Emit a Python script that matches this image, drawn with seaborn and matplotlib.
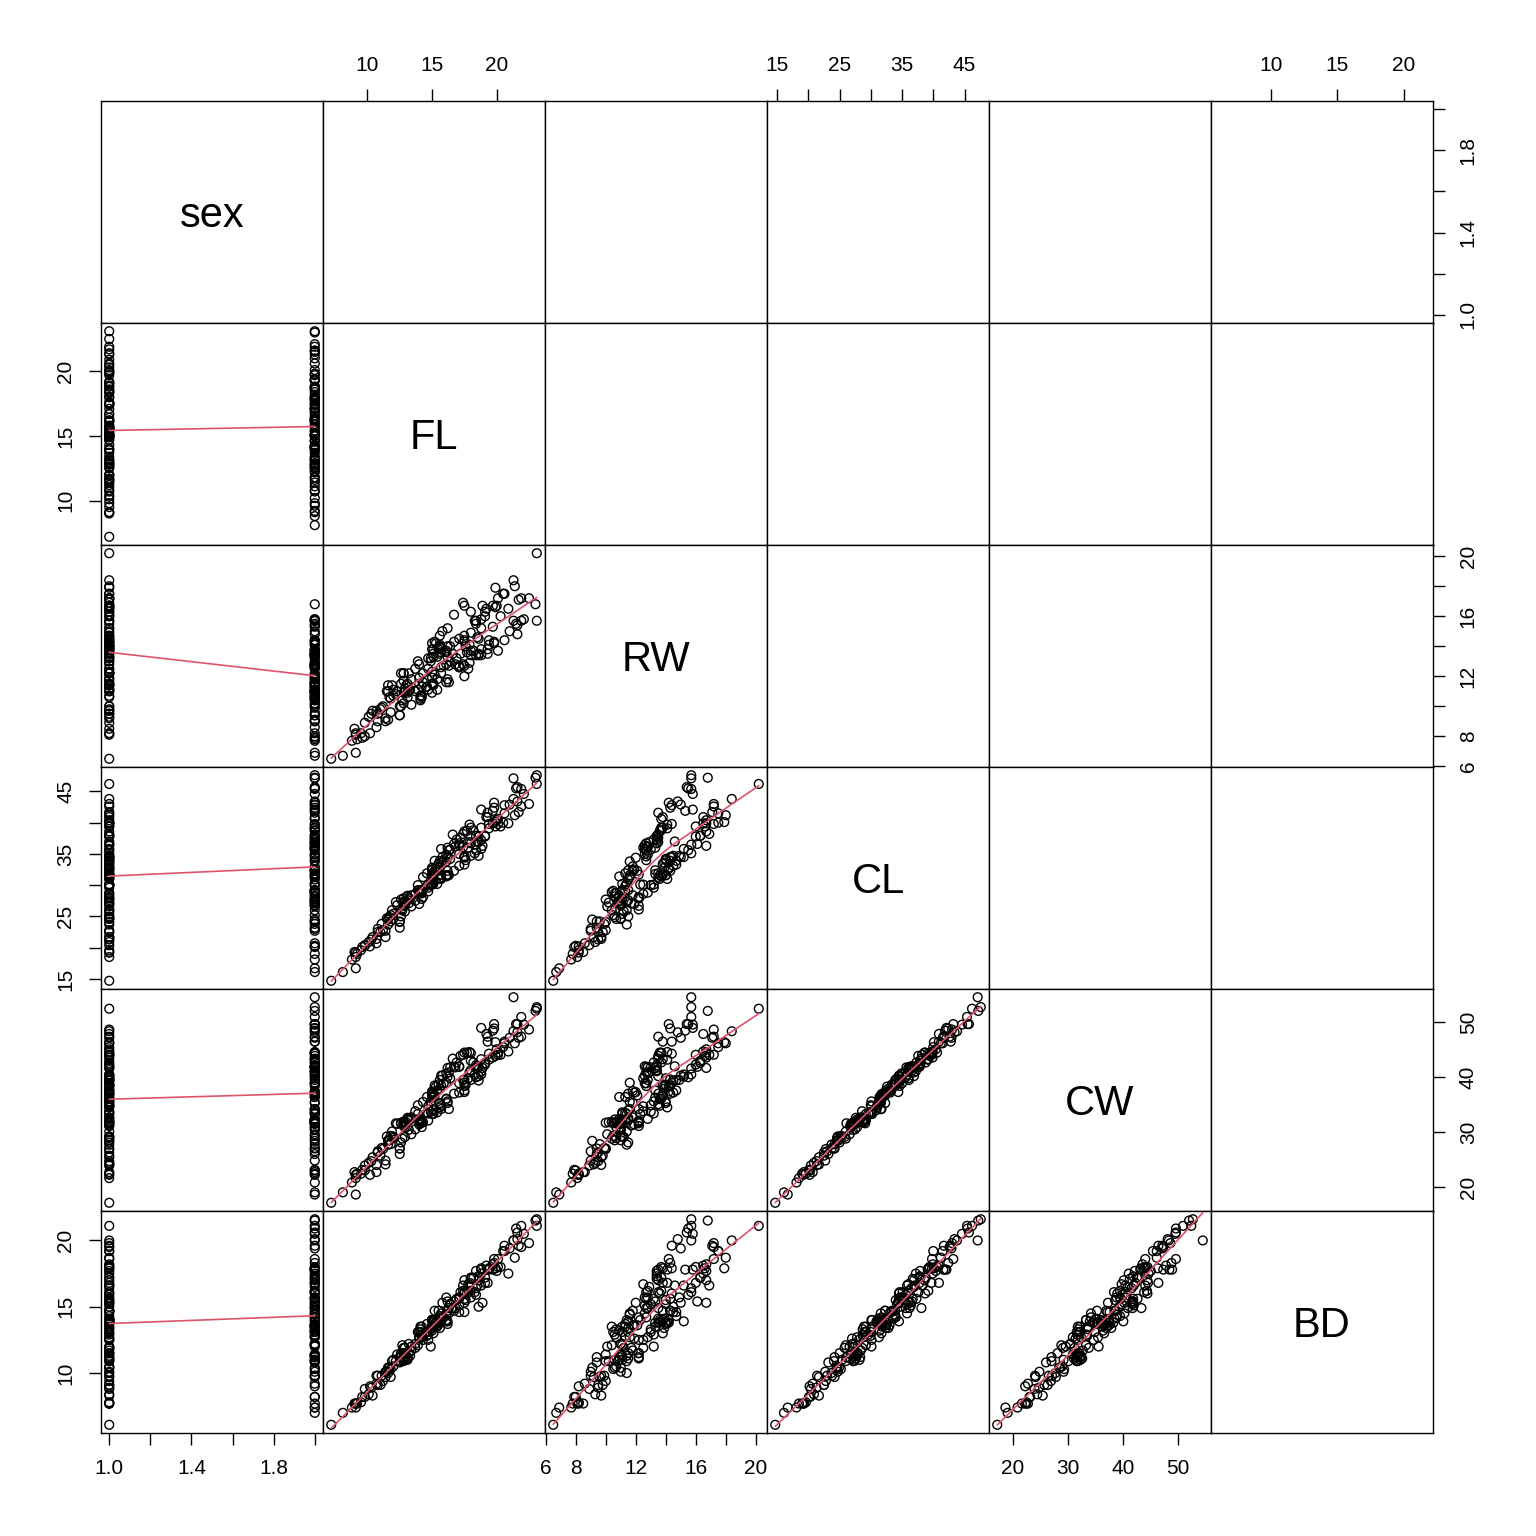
import numpy as np
import pandas as pd
import matplotlib
matplotlib.use("Agg")
import matplotlib.pyplot as plt
import seaborn as sns

# crab measurements (blue males, blue females, orange males, orange females)
sex = ["M"] * 50 + ["F"] * 50 + ["M"] * 50 + ["F"] * 50

FL = [8.1, 8.8, 9.2, 9.6, 9.8, 10.8, 11.1, 11.6, 11.8, 11.8, 12.2, 12.3, 12.6, 12.8, 12.8, 12.9, 13.1, 13.1, 13.3, 13.9,
      14.3, 14.6, 15.0, 15.0, 15.0, 15.2, 15.4, 15.7, 15.9, 16.1, 16.1, 16.2, 16.3, 16.4, 16.6, 16.8, 16.9, 17.1, 17.1, 17.2,
      17.7, 17.9, 18.0, 18.8, 19.3, 19.3, 19.7, 19.8, 19.8, 21.3,
      7.2, 9.0, 9.1, 9.1, 9.5, 9.8, 10.1, 10.3, 10.4, 10.8, 11.0, 11.2, 11.5, 11.6, 11.6, 11.7, 11.9, 12.0, 12.0, 12.6,
      12.8, 12.8, 12.8, 13.0, 13.1, 13.2, 13.4, 13.7, 13.9, 14.7, 14.9, 15.0, 15.0, 15.1, 15.1, 15.1, 15.2, 15.3, 15.4, 15.5,
      15.6, 15.6, 15.7, 15.8, 16.2, 16.4, 16.7, 17.4, 17.5, 19.2,
      9.1, 10.2, 10.7, 11.4, 12.5, 12.5, 12.7, 13.2, 13.4, 13.7, 14.0, 14.1, 14.1, 14.1, 14.2, 14.2, 14.2, 14.6, 14.7, 15.1,
      15.1, 15.4, 15.7, 16.2, 16.3, 17.1, 17.4, 17.5, 17.5, 17.8, 17.9, 18.0, 18.2, 18.4, 18.6, 18.6, 18.8, 18.8, 19.4, 19.4,
      20.1, 20.6, 21.0, 21.5, 21.6, 21.6, 21.9, 22.1, 23.0, 23.1,
      10.7, 11.4, 12.5, 12.6, 12.9, 14.0, 14.0, 14.3, 14.7, 14.9, 15.0, 15.6, 15.6, 15.6, 15.7, 16.1, 16.1, 16.2, 16.7, 17.1,
      17.5, 17.5, 17.5, 17.6, 18.0, 18.0, 18.3, 18.4, 18.4, 18.5, 18.6, 18.8, 18.9, 19.1, 19.1, 19.7, 19.9, 19.9, 20.0, 20.1,
      20.3, 20.5, 20.6, 20.9, 21.3, 21.4, 21.7, 21.9, 22.5, 23.1]

RW = [6.7, 7.7, 7.8, 7.9, 8.0, 9.0, 9.9, 9.1, 9.6, 10.5, 10.8, 11.0, 10.0, 10.2, 10.9, 11.0, 10.6, 10.9, 11.1, 11.1,
      11.6, 11.3, 10.9, 11.5, 11.9, 12.1, 11.8, 12.6, 12.7, 11.6, 12.8, 13.3, 12.7, 13.0, 13.5, 12.8, 13.2, 12.6, 12.7, 13.5,
      13.6, 14.1, 13.7, 15.8, 13.5, 13.8, 15.3, 14.2, 14.3, 15.7,
      6.5, 8.5, 8.1, 8.2, 8.2, 8.9, 9.3, 9.5, 9.7, 9.5, 9.8, 10.0, 11.0, 11.0, 11.4, 10.6, 11.4, 10.7, 11.1, 12.2,
      11.7, 12.2, 12.2, 11.4, 11.5, 12.2, 11.8, 12.5, 13.0, 12.5, 13.2, 13.8, 14.2, 13.3, 13.5, 13.8, 14.3, 14.2, 13.3, 13.8,
      13.9, 14.7, 13.9, 15.0, 15.2, 14.0, 16.1, 16.9, 16.7, 16.5,
      6.9, 8.2, 8.6, 9.0, 9.4, 9.4, 10.4, 11.0, 10.1, 11.0, 11.5, 10.4, 10.5, 10.7, 10.6, 10.7, 11.3, 11.3, 11.1, 11.4,
      11.5, 11.1, 12.2, 11.8, 11.6, 12.6, 12.8, 12.0, 12.7, 12.5, 12.9, 13.4, 13.7, 13.4, 13.4, 13.5, 13.4, 13.8, 14.1, 14.4,
      13.7, 14.4, 15.0, 15.5, 15.4, 14.8, 15.7, 15.8, 16.8, 15.7,
      9.7, 9.2, 10.0, 11.5, 11.2, 11.9, 12.8, 12.2, 13.2, 13.0, 12.3, 13.5, 14.0, 14.1, 13.6, 13.6, 13.7, 14.0, 14.3, 14.5,
      14.3, 14.4, 14.7, 14.0, 14.9, 16.3, 15.7, 15.5, 15.7, 14.6, 14.5, 15.2, 16.7, 16.0, 16.3, 16.7, 16.6, 17.9, 16.7, 17.2,
      16.0, 17.5, 17.5, 16.5, 18.4, 18.0, 17.1, 17.2, 17.2, 20.2]

CL = [16.1, 18.1, 19.0, 20.1, 20.3, 23.0, 23.8, 24.5, 24.2, 25.2, 27.3, 26.8, 27.7, 27.2, 27.4, 26.8, 28.2, 28.3, 27.8, 29.2,
      31.3, 31.9, 31.4, 32.4, 32.5, 32.3, 33.0, 35.8, 34.0, 33.8, 34.9, 36.0, 35.6, 35.7, 38.1, 36.2, 37.3, 36.4, 36.7, 37.6,
      38.7, 39.7, 39.2, 42.1, 41.6, 40.9, 41.9, 43.2, 42.4, 47.1,
      14.7, 19.3, 18.5, 19.2, 19.6, 20.4, 20.9, 21.3, 21.7, 22.5, 22.5, 22.8, 24.7, 24.6, 23.7, 24.9, 26.0, 24.6, 25.4, 26.1,
      27.1, 26.7, 27.9, 27.3, 27.6, 27.9, 28.4, 28.6, 30.0, 30.1, 30.1, 31.7, 32.8, 31.8, 31.9, 31.7, 33.9, 32.6, 32.4, 33.4,
      32.8, 33.9, 33.6, 34.5, 34.5, 34.2, 36.6, 38.2, 38.6, 40.9,
      16.7, 20.2, 20.7, 22.7, 23.2, 24.2, 26.0, 27.1, 26.6, 27.5, 29.2, 28.9, 29.1, 28.7, 28.7, 27.8, 29.2, 29.9, 29.0, 30.2,
      30.9, 30.2, 31.7, 32.3, 31.6, 35.0, 36.1, 34.4, 34.6, 36.0, 36.9, 36.7, 38.8, 37.9, 37.8, 36.9, 37.2, 39.2, 39.1, 39.8,
      40.6, 42.8, 42.9, 45.5, 45.7, 43.4, 45.4, 44.6, 47.2, 47.6,
      21.4, 21.7, 24.1, 25.0, 25.8, 27.0, 28.8, 28.1, 29.6, 30.0, 30.1, 31.2, 31.6, 31.0, 31.0, 31.6, 31.4, 31.6, 32.3, 33.1,
      34.5, 34.5, 33.3, 34.0, 34.7, 37.9, 35.1, 35.6, 36.5, 37.0, 34.7, 35.8, 36.3, 37.8, 37.9, 39.9, 39.4, 40.1, 40.4, 39.8,
      39.4, 40.0, 41.5, 39.9, 43.8, 41.2, 41.7, 42.6, 43.0, 46.2]

CW = [19.0, 20.8, 22.4, 23.1, 23.0, 26.5, 27.1, 28.4, 27.8, 29.3, 31.6, 31.5, 31.7, 31.8, 31.5, 30.9, 32.3, 32.4, 32.3, 33.3,
      35.5, 36.4, 36.4, 37.0, 37.2, 36.7, 37.5, 40.3, 38.9, 39.0, 40.7, 41.7, 40.9, 41.8, 43.4, 41.8, 42.7, 42.0, 41.9, 43.9,
      44.5, 44.6, 44.4, 49.0, 47.4, 46.5, 48.5, 49.7, 48.9, 54.6,
      17.1, 22.7, 21.6, 22.2, 22.4, 23.9, 24.4, 24.7, 25.4, 26.3, 25.7, 26.9, 29.2, 28.5, 27.7, 28.5, 30.1, 28.9, 29.2, 31.6,
      31.2, 31.1, 31.9, 31.8, 32.6, 32.1, 32.7, 33.8, 34.9, 34.7, 35.6, 36.9, 37.4, 36.3, 37.0, 36.6, 38.5, 38.3, 37.6, 38.7,
      37.9, 39.5, 38.5, 40.3, 40.1, 39.8, 41.9, 44.1, 44.5, 47.9,
      18.6, 22.2, 22.7, 24.8, 26.0, 27.0, 28.8, 30.4, 29.6, 30.5, 32.2, 31.8, 31.6, 31.9, 31.7, 30.9, 32.2, 33.5, 32.1, 33.3,
      34.0, 33.6, 34.2, 35.3, 34.2, 38.9, 39.5, 37.3, 38.4, 39.8, 40.9, 41.3, 42.7, 42.2, 41.9, 40.2, 41.1, 43.3, 43.2, 44.3,
      44.5, 46.5, 47.2, 49.7, 49.7, 48.2, 51.0, 49.6, 52.1, 52.8,
      24.0, 24.1, 27.0, 28.1, 29.1, 31.4, 32.4, 31.8, 33.4, 33.7, 33.3, 35.1, 35.3, 34.5, 34.8, 36.0, 36.1, 35.6, 37.0, 37.2,
      39.6, 39.0, 37.6, 38.6, 39.5, 43.0, 40.5, 40.0, 41.6, 42.0, 39.4, 40.5, 41.7, 42.3, 42.6, 43.6, 43.9, 46.4, 45.1, 44.1,
      44.1, 45.5, 46.2, 44.7, 48.4, 46.2, 47.2, 47.4, 48.7, 52.5]

BD = [7.0, 7.4, 7.7, 8.2, 8.2, 9.8, 9.8, 10.4, 9.7, 10.3, 10.9, 11.4, 11.4, 10.9, 11.0, 11.4, 11.0, 11.2, 11.3, 12.1,
      12.7, 13.7, 13.2, 13.4, 13.6, 13.6, 13.6, 14.5, 14.2, 14.4, 15.7, 15.4, 14.9, 15.2, 14.9, 14.9, 15.6, 15.1, 15.6, 16.1,
      16.0, 16.8, 16.2, 17.8, 17.8, 16.8, 17.8, 18.6, 18.3, 20.0,
      6.1, 7.7, 7.7, 7.7, 7.8, 8.8, 8.4, 8.9, 8.3, 9.1, 9.1, 9.4, 10.1, 10.4, 10.0, 10.4, 10.9, 10.5, 11.0, 11.2,
      11.9, 11.1, 11.5, 11.3, 11.1, 11.5, 11.7, 11.9, 13.1, 12.5, 12.0, 14.0, 14.0, 13.5, 13.8, 13.0, 14.7, 13.8, 13.8, 14.7,
      13.4, 14.3, 14.1, 15.3, 13.9, 15.2, 15.4, 16.6, 17.0, 18.1,
      7.4, 9.0, 9.2, 10.1, 10.8, 11.2, 12.1, 12.2, 12.0, 12.2, 13.1, 13.5, 13.1, 13.3, 12.9, 12.7, 13.5, 12.8, 13.1, 14.0,
      13.9, 13.5, 14.2, 14.7, 14.5, 15.7, 16.2, 15.3, 16.1, 16.7, 16.5, 17.1, 17.2, 17.7, 17.3, 17.0, 17.5, 17.9, 17.8, 17.9,
      18.0, 19.6, 19.4, 20.9, 20.6, 20.1, 21.1, 20.5, 21.5, 21.6,
      9.8, 9.7, 10.9, 11.5, 11.9, 12.6, 12.7, 12.5, 12.9, 13.3, 14.0, 14.1, 13.8, 13.8, 13.8, 14.0, 13.9, 13.7, 14.7, 14.6,
      15.6, 16.0, 14.6, 15.5, 15.7, 17.2, 16.1, 15.9, 16.4, 16.6, 15.0, 16.6, 15.3, 16.8, 17.2, 18.2, 17.9, 17.9, 17.7, 18.6,
      18.0, 19.2, 19.2, 17.5, 20.0, 18.7, 19.6, 19.5, 19.8, 21.1]

var_names = ["sex", "FL", "RW", "CL", "CW", "BD"]

# axis ticks and which of them carry a label
tick_pos = {
    "sex": [1.0, 1.2, 1.4, 1.6, 1.8, 2.0],
    "FL": [10, 15, 20],
    "RW": [6, 8, 10, 12, 14, 16, 18, 20],
    "CL": [15, 20, 25, 30, 35, 40, 45],
    "CW": [20, 30, 40, 50],
    "BD": [10, 15, 20],
}
tick_lab = {
    "sex": ["1.0", "", "1.4", "", "1.8", ""],
    "FL": ["10", "15", "20"],
    "RW": ["6", "8", "", "12", "", "16", "", "20"],
    "CL": ["15", "", "25", "", "35", "", "45"],
    "CW": ["20", "30", "40", "50"],
    "BD": ["10", "15", "20"],
}

crabs = pd.DataFrame({"sex": sex, "FL": FL, "RW": RW, "CL": CL, "CW": CW, "BD": BD})
# factor codes like R: F = 1, M = 2
crabs["sex"] = crabs["sex"].map({"F": 1, "M": 2}).astype(float)


def lowess(x, y, f=2 / 3, iters=3):
    # plain version of R's lowess smoother
    order = np.argsort(x, kind="stable")
    x = np.asarray(x, float)[order]
    y = np.asarray(y, float)[order]
    n = len(x)
    ns = max(min(int(f * n + 1e-7), n), 2)
    rng = x[-1] - x[0]
    rw = np.ones(n)
    fit = np.zeros(n)
    for it in range(iters + 1):
        for i in range(n):
            d = np.abs(x - x[i])
            h = np.sort(d)[ns - 1]
            w = np.zeros(n)
            if h > 0:
                inside = d <= 0.999 * h
                w[inside] = np.where(d[inside] <= 0.001 * h, 1.0, (1 - (d[inside] / h) ** 3) ** 3)
            else:
                w[d == 0] = 1.0
            w = w * rw
            if w.sum() <= 0:
                fit[i] = y[i]
                continue
            w = w / w.sum()
            xm = np.sum(w * x)
            b = np.sum(w * (x - xm) ** 2)
            if h > 0 and np.sqrt(b) > 0.001 * rng:
                slope = np.sum(w * (x - xm) * y) / b
                fit[i] = np.sum(w * y) + slope * (x[i] - xm)
            else:
                fit[i] = np.sum(w * y)
        if it == iters:
            break
        res = np.abs(y - fit)
        cmad = 6 * np.median(res)
        if cmad == 0:
            break
        rw = np.where(res <= 0.001 * cmad, 1.0,
                      np.where(res > 0.999 * cmad, 0.0, (1 - (res / cmad) ** 2) ** 2))
    return x, fit


def lims(v):
    lo, hi = crabs[v].min(), crabs[v].max()
    pad = 0.04 * (hi - lo)
    return lo - pad, hi + pad


sns.set_style("white")
plt.rcParams["font.family"] = ["Liberation Sans", "DejaVu Sans"]
plt.rcParams["text.color"] = "black"

nv = len(var_names)
fig, axes = plt.subplots(nv, nv, figsize=(15.36, 15.36), dpi=100)
fig.subplots_adjust(left=101 / 1536, right=1433 / 1536, bottom=103 / 1536, top=1 - 101 / 1536,
                    wspace=0, hspace=0)

for i, yv in enumerate(var_names):
    for j, xv in enumerate(var_names):
        ax = axes[i, j]
        if i == j:
            ax.text(0.5, 0.48, xv, transform=ax.transAxes, ha="center", va="center",
                    fontsize=30, color="black")
        elif i > j:
            sns.scatterplot(x=crabs[xv], y=crabs[yv], ax=ax, color="black", s=40,
                            linewidth=1.0, marker="o", legend=False)
            ax.collections[-1].set_facecolor("none")
            ax.collections[-1].set_edgecolor("black")
            lx, ly = lowess(crabs[xv].values, crabs[yv].values)
            sns.lineplot(x=lx, y=ly, ax=ax, color="#DF536B", linewidth=1.2,
                         sort=False, estimator=None)
        ax.set_xlim(*lims(xv))
        ax.set_ylim(*lims(yv))
        ax.set_xlabel("")
        ax.set_ylabel("")
        for sp in ax.spines.values():
            sp.set_visible(True)
            sp.set_color("black")
            sp.set_linewidth(1.0)

        # R pairs style: alternate axes on the outer panels
        ax.set_xticks([])
        ax.set_yticks([])
        if i == 0 and j % 2 == 1:
            ax.xaxis.set_ticks_position("top")
            ax.set_xticks(tick_pos[xv])
            ax.set_xticklabels(tick_lab[xv])
        if i == nv - 1 and j % 2 == 0:
            ax.xaxis.set_ticks_position("bottom")
            ax.set_xticks(tick_pos[xv])
            ax.set_xticklabels(tick_lab[xv])
        if j == 0 and i % 2 == 1:
            ax.yaxis.set_ticks_position("left")
            ax.set_yticks(tick_pos[yv])
            ax.set_yticklabels(tick_lab[yv], rotation=90, va="center")
        if j == nv - 1 and i % 2 == 0:
            ax.yaxis.set_ticks_position("right")
            ax.set_yticks(tick_pos[yv])
            ax.set_yticklabels(tick_lab[yv], rotation=90, va="center")
        ax.tick_params(axis="both", direction="out", length=8.6, width=1.0, color="black",
                       labelsize=15, pad=10, labelcolor="black")

fig.savefig("out.png", dpi=100, facecolor="white")
